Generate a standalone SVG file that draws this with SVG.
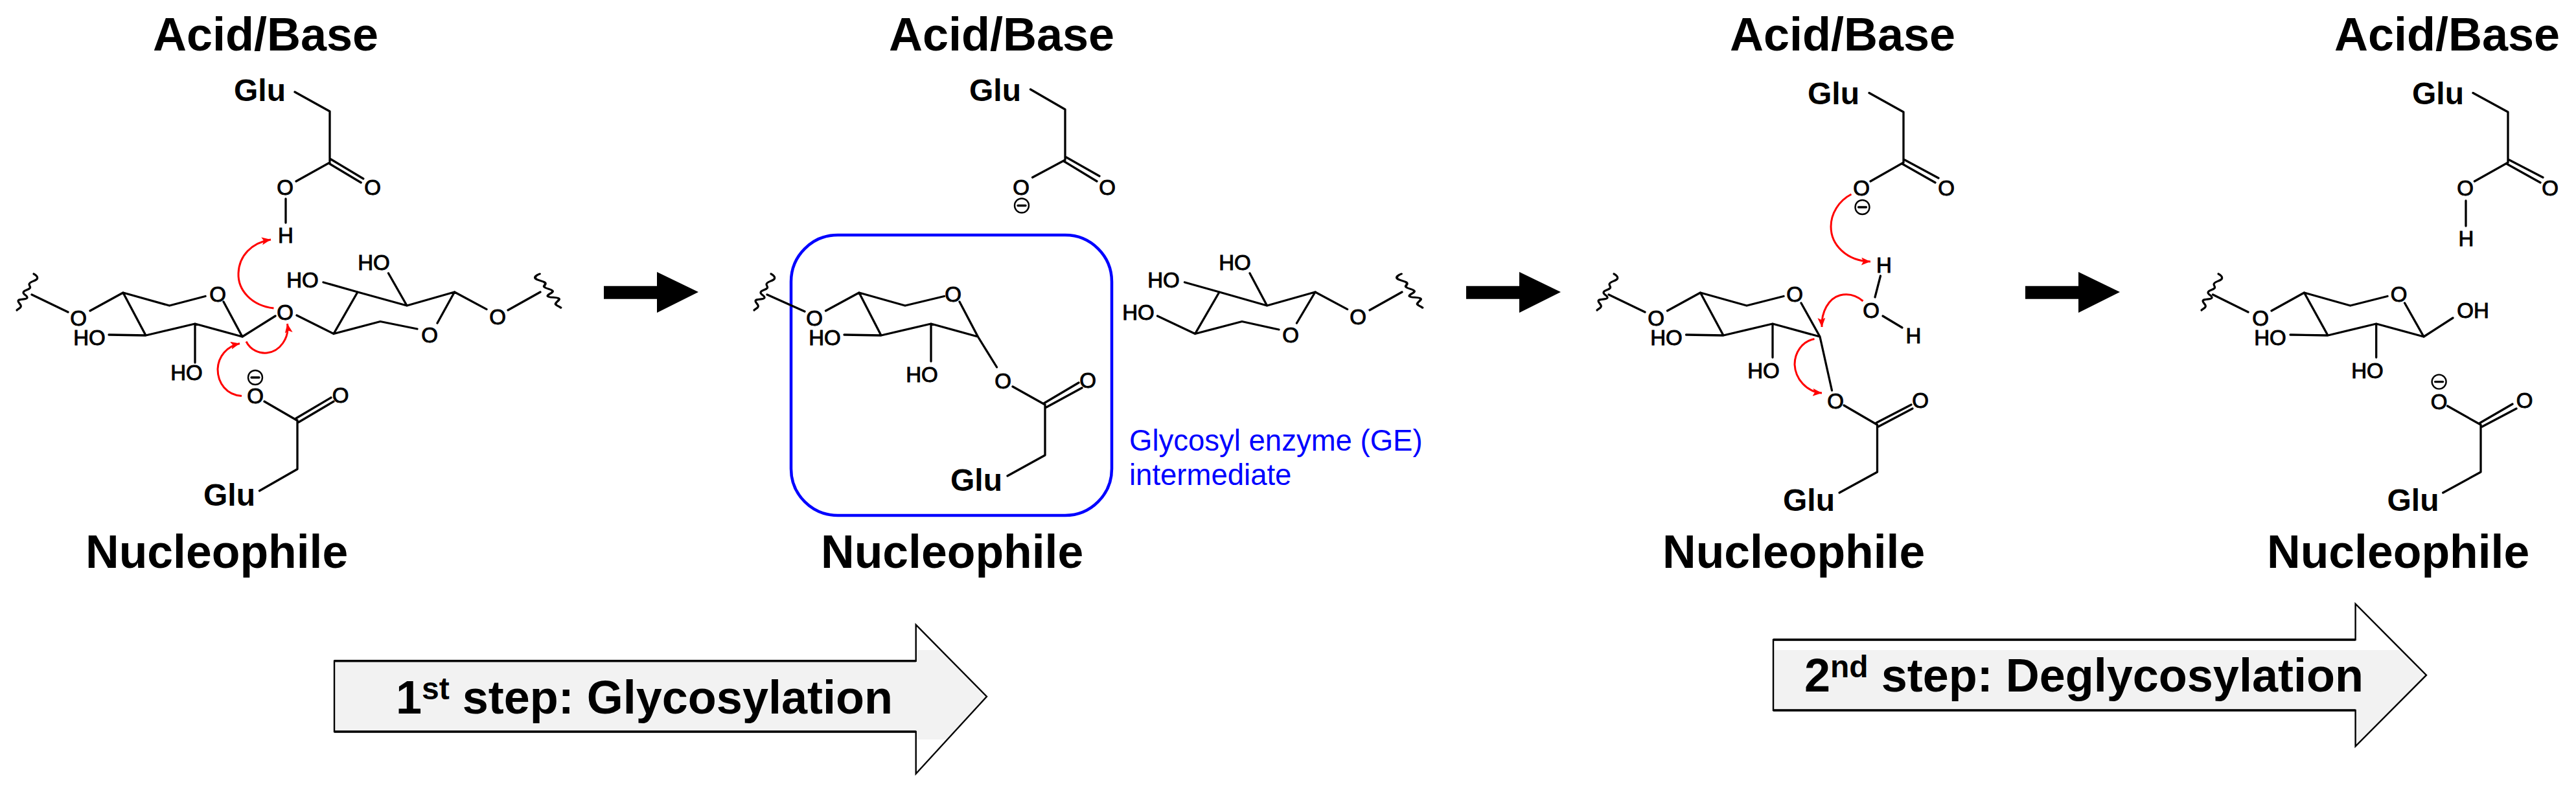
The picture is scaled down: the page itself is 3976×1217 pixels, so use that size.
<svg xmlns="http://www.w3.org/2000/svg" xmlns:xlink="http://www.w3.org/1999/xlink" width="3976" height="1217" viewBox="0 0 3976 1217">
<style>
text{font-family:"Liberation Sans",Arial,sans-serif;fill:#000}
.h{font-size:72px;font-weight:700}
.n{font-size:71.500px;font-weight:700}
.g{font-size:48px;font-weight:700}
.a{font-size:33px;stroke:#000;stroke-width:1px;text-anchor:middle}
.blue{font-size:45.5px;fill:#0000ff}
.s{font-size:72px;font-weight:700}
.b{fill:none;stroke:#000;stroke-width:3.3px;stroke-linecap:round;stroke-linejoin:round}
.w{fill:none;stroke:#000;stroke-width:3.2px;stroke-linecap:round}
.r{fill:none;stroke:#f00;stroke-width:3px;marker-end:url(#rh)}
.m{fill:#fff;stroke:#000;stroke-width:2.4px}
.box{fill:none;stroke:#0000ff;stroke-width:4.5px}
.o{fill:none;stroke:#000;stroke-width:2.4px;stroke-linejoin:miter}
.t{fill:none;stroke:#000;stroke-width:3.6px}
</style>
<defs>
<marker id="rh" markerUnits="userSpaceOnUse" markerWidth="16" markerHeight="14" refX="14" refY="6" orient="auto"><path d="M0 0L14 6L0 12L3 6Z" fill="#f00"/></marker>
<path id="wave" d="M0 0C4 2 7 5 5 8C3 11 -7 12 -7 16C-7 19 -4 20 -6 22C-8 25 -16 25 -16 29C-16 32 -9 34 -10 37C-11 40 -24 38 -24 42C-24 45 -18 48 -20 51C-21 53 -24 54 -26 56"/>
<polygon id="block" points="932,441.7 1014,441.7 1014,420 1078,451 1014,483 1014,461.7 932,461.7"/>
<g id="neg"><circle r="11" class="m"/><path d="M-6 0H6" class="b"/></g>
<clipPath id="band1"><rect x="500" y="1004" width="1040" height="138"/></clipPath>
<clipPath id="band2"><rect x="2720" y="1004" width="1040" height="160"/></clipPath>
</defs>

<g id="labels">
<text class="h" x="236" y="77.5">Acid/Base</text>
<text class="h" x="1372" y="77.5">Acid/Base</text>
<text class="h" x="2670" y="77.5">Acid/Base</text>
<text class="h" x="3603" y="77.5">Acid/Base</text>
<text class="n" x="132" y="877">Nucleophile</text>
<text class="n" x="1267" y="877">Nucleophile</text>
<text class="n" x="2566" y="877">Nucleophile</text>
<text class="n" x="3499" y="877">Nucleophile</text>
</g>

<g id="state1-acid-base">
<text class="g" x="361" y="156">Glu</text>
<path class="b" d="M455 142L509 172V249M510.800 246L560.800 276M507.200 252L557.200 282M509 251L457 280M441 307V344"/>
<text class="a" x="440" y="301">O</text><text class="a" x="575" y="301">O</text><text class="a" x="441" y="375">H</text>
</g>
<g id="state1-glycan">
<use href="#wave" class="w" x="52" y="423"/>
<use href="#wave" class="w" transform="translate(833 423) scale(-1.25 .93)"/>
<path class="b" d="M49 455L105 482M139 480L190 452L261.500 472L317 457.500M345 466L374 520L301 500L225 518L190 452M168 517L225 518M301 500V560M374 520L425 488M458 487L515 515.500L552 451L628 472L701.500 451L675 499M644 508L587 496.500L515 515.500M628 472L599.500 422M552 451L499 436M701.500 451L751 477.600M784 479L834 451"/>
<text class="a" x="121" y="503">O</text><text class="a" x="138" y="533">HO</text><text class="a" x="336" y="466">O</text><text class="a" x="288" y="587">HO</text><text class="a" x="440" y="494">O</text><text class="a" x="663" y="529">O</text><text class="a" x="577" y="417">HO</text><text class="a" x="467" y="444">HO</text><text class="a" x="768" y="501">O</text>
</g>
<g id="state1-nucleophile">
<path class="b" d="M408 620L458 649M457 646L511 614M461 652L515 620M459 649V724.500L400.500 758"/>
<use href="#neg" x="394" y="583"/>
<text class="a" x="394" y="623">O</text><text class="a" x="525.500" y="622">O</text>
<text class="g" x="314" y="781">Glu</text>
</g>

<g id="state2-acid-base">
<text class="g" x="1496" y="156">Glu</text>
<path class="b" d="M1590.500 138L1644 169V246M1646 243L1697 272M1642 249L1693 280M1644 247L1593.600 274"/>
<text class="a" x="1576" y="301">O</text><text class="a" x="1709" y="301">O</text>
<use href="#neg" x="1577" y="317.500"/>
</g>
<g id="state2-ge-intermediate">
<rect class="box" x="1221" y="363" width="495" height="433" rx="72" ry="72"/>
<use href="#wave" class="w" x="1190" y="423"/>
<path class="b" d="M1184 455L1242 481M1274.500 480L1326 452L1397 472L1457.400 457.500M1481 466L1509.400 520L1437 500L1360 518L1326 452M1303 517L1360 518M1437 500V558M1509.400 520L1538.500 567M1563 597L1613 625M1611 623L1665 591M1615 629L1670 599M1613 625V703L1555 735"/>
<text class="a" x="1257" y="503">O</text><text class="a" x="1273" y="533">HO</text><text class="a" x="1471" y="466">O</text><text class="a" x="1423" y="590">HO</text><text class="a" x="1548" y="600">O</text><text class="a" x="1679" y="599">O</text>
<text class="g" x="1467" y="758">Glu</text>
<text class="blue" x="1743" y="696">Glycosyl enzyme (GE)</text>
<text class="blue" x="1743" y="749">intermediate</text>
</g>
<g id="state2-glycan">
<use href="#wave" class="w" transform="translate(2163 423) scale(-1.25 .93)"/>
<path class="b" d="M1786.500 488L1844.600 515.500L1882 451L1955.600 472L2030 451L2001.500 499M1974 509L1917 496.500L1844.600 515.500M1955.600 472L1929 422M1882 451L1828.500 436M2030 451L2079.600 477.600M2114 479L2164 451"/>
<text class="a" x="1757" y="494">HO</text><text class="a" x="1906" y="417">HO</text><text class="a" x="1796" y="444">HO</text><text class="a" x="1992" y="529">O</text><text class="a" x="2096" y="501">O</text>
</g>

<g id="state3-acid-base">
<text class="g" x="2790" y="161">Glu</text>
<path class="b" d="M2885 143.500L2938 173V250M2940 247L2992 275M2936 253L2987 282M2938 251L2887 280"/>
<text class="a" x="2873" y="302">O</text><text class="a" x="3004" y="302">O</text>
<use href="#neg" x="2874.500" y="320"/>
</g>
<g id="state3-water">
<path class="b" d="M2902.500 426L2894 459M2906 488L2936 506"/>
<text class="a" x="2908" y="421">H</text><text class="a" x="2888" y="491">O</text><text class="a" x="2953.500" y="530">H</text>
</g>
<g id="state3-glycan">
<use href="#wave" class="w" x="2491" y="423"/>
<path class="b" d="M2483 455L2539 482M2573.500 480L2624.500 452L2696 472L2753 457.500M2780 468L2809 520L2736 500L2660 518L2624.500 452M2602.500 517L2660 518M2736 500V552M2809 520L2827.500 603"/>
<text class="a" x="2556" y="503">O</text><text class="a" x="2572" y="533">HO</text><text class="a" x="2770" y="466">O</text><text class="a" x="2722" y="584">HO</text>
</g>
<g id="state3-nucleophile">
<path class="b" d="M2846 626L2897.500 656M2896 653L2950 625M2899 659L2952 631M2897.500 656V729L2839 761"/>
<text class="a" x="2833" y="631">O</text><text class="a" x="2964" y="630">O</text>
<text class="g" x="2752" y="789">Glu</text>
</g>

<g id="state4-acid-base">
<text class="g" x="3723" y="161">Glu</text>
<path class="b" d="M3817 143.500L3871 173V250M3873 247L3925 274M3869 253L3921 282M3871 251L3819.400 280M3806 310V349"/>
<text class="a" x="3805" y="302">O</text><text class="a" x="3936" y="302">O</text><text class="a" x="3806.500" y="380">H</text>
</g>
<g id="state4-glycan">
<use href="#wave" class="w" x="3424" y="423"/>
<path class="b" d="M3415.500 455L3470 482M3506 480L3556.500 452L3627.600 472L3685 457.500M3711.600 468L3741 520L3667.700 500L3593 518L3556.500 452M3535 517L3593 518M3667.700 500V552M3741 520L3786 491"/>
<text class="a" x="3489" y="503">O</text><text class="a" x="3504" y="533">HO</text><text class="a" x="3702.600" y="466">O</text><text class="a" x="3654" y="584">HO</text><text class="a" x="3817" y="491">OH</text>
</g>
<g id="state4-nucleophile">
<path class="b" d="M3777.600 627L3829 656M3828 653L3878 624M3831 659L3884 631M3829 656V729L3770.700 761"/>
<use href="#neg" x="3764.600" y="589.600"/>
<text class="a" x="3764.600" y="632">O</text><text class="a" x="3896.600" y="630">O</text>
<text class="g" x="3684.500" y="789">Glu</text>
</g>

<g id="step1">
<polygon fill="#f2f2f2" clip-path="url(#band1)" points="516,1020.700 1413.700,1020.700 1413.700,965 1523,1075.700 1413.700,1195 1413.700,1130 516,1130"/>
<polygon class="o" points="516,1020.700 1413.700,1020.700 1413.700,965 1523,1075.700 1413.700,1195 1413.700,1130 516,1130"/>
<path class="t" d="M516 1020.700H1413.700M516 1130H1413.700"/>
<text class="s" x="611" y="1102">1<tspan font-size="48" dy="-22">st</tspan><tspan dy="22"> step: Glycosylation</tspan></text>
</g>
<g id="step2">
<polygon fill="#f2f2f2" clip-path="url(#band2)" points="2737,988 3635.600,988 3635.600,932.700 3745,1042.700 3635.600,1152.700 3635.600,1097 2737,1097"/>
<polygon class="o" points="2737,988 3635.600,988 3635.600,932.700 3745,1042.700 3635.600,1152.700 3635.600,1097 2737,1097"/>
<path class="t" d="M2737 988H3635.600M2737 1097H3635.600"/>
<text class="s" x="2785" y="1068">2<tspan font-size="48" dy="-22">nd</tspan><tspan dy="22"> step: Deglycosylation</tspan></text>
</g>

<g id="connectors">
<use href="#block"/>
<use href="#block" x="1331"/>
<use href="#block" x="2194"/>
<path class="r" d="M422.500 476C388 472 367 448 368 422C369 395 388 375 418 370"/>
<path class="r" d="M380 527.500C387 541 400 546 412 545C432 543 447 522 443.500 500"/>
<path class="r" d="M373 611.500C350 610 336 592 336 570C337 550 350 535 370 530.500"/>
<path class="r" d="M2857.500 300C2838 310 2826 330 2826 350C2826 378 2850 403 2887 404"/>
<path class="r" d="M2875.500 465C2865 456 2852 453 2840 456C2822 461 2811 482 2812 505"/>
<path class="r" d="M2800.500 523.500C2781 527 2770 545 2770 563C2771 585 2788 605 2812 607"/>
</g>
</svg>
